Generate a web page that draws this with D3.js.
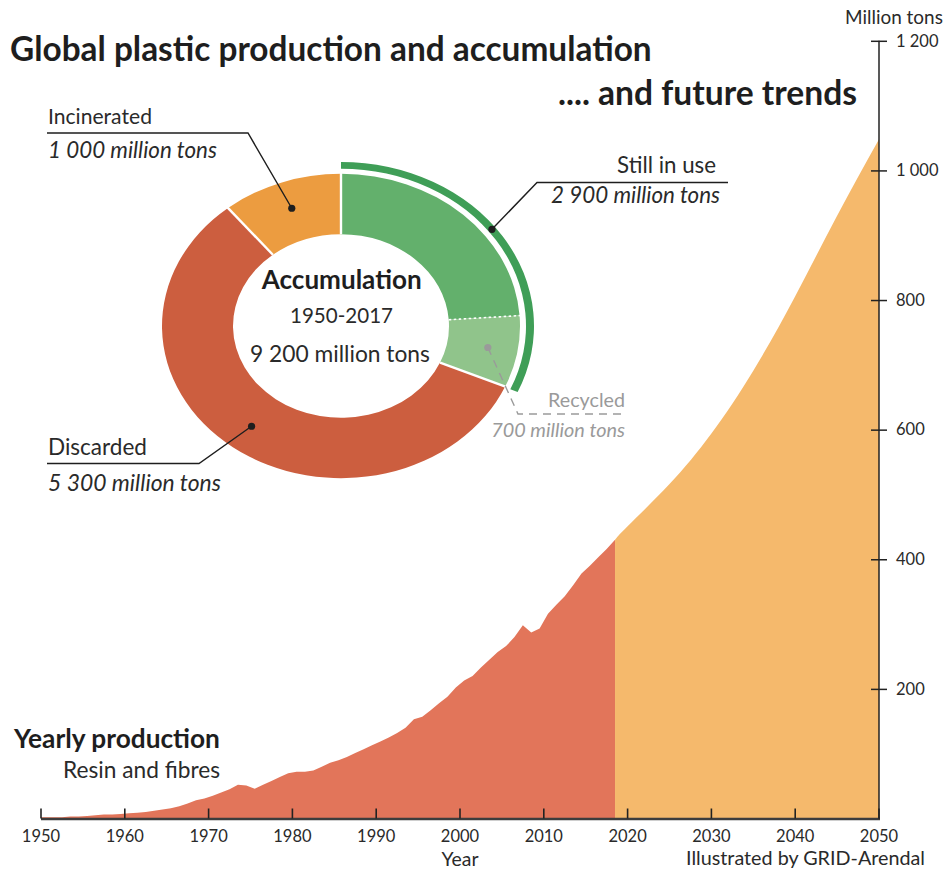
<!DOCTYPE html>
<html><head><meta charset="utf-8">
<script src="https://cdn.jsdelivr.net/npm/d3@7"></script>
<style>
html,body{margin:0;padding:0;background:#fff;}
svg{display:block;font-family:Lato,"Noto Sans",sans-serif;}
</style></head><body>
<svg id="c" width="949" height="870"></svg>
<script>
// ---------------- DATA ----------------
const histYears = d3.range(1950, 2019);
const histValues = [2,2,2,3,3,4,5,6,6,7,
  8,9,10,12,14,16,19,23,28,31,
  35,40,45,52,51,46,52,58,64,70,
  72,72,74,80,86,90,95,101,107,113,
  119,125,132,140,153,157,167,178,188,202,
  213,220,233,245,257,266,280,298,287,293,
  316,330,343,360,378,390,403,416,430];
const futureYears = [2020, 2025, 2030, 2035, 2040, 2045, 2050];
const futureValues = [451, 516, 594, 691, 806, 930, 1048];
const xTickYears = [1950,1960,1970,1980,1990,2000,2010,2020,2030,2040,2050];
const yTickValues = [200,400,600,800,1000,1200];

const donutCategories = ["Still in use","Recycled","Discarded","Incinerated"];
const donutValues = [2200, 700, 5300, 1000];   // dark green = 2 900 still in use minus 700 recycled
const donutLabels = ["2 900 million tons","700 million tons","5 300  million tons","1 000 million tons"];
const donutColors = ["#63b06c","#90c48b","#cc5e3f","#ec9c40"];

// ---------------- SETUP ----------------
const svg = d3.select("#c");
const x = d3.scaleLinear().domain([1950, 2050]).range([41, 879]);
const y = d3.scaleLinear().domain([0, 1200]).range([818.5, 40.8]);
const HALF = 0.5; // yearly values drawn at mid-year

function fit(sel, w){
  const n = sel.node();
  const cur = n.getComputedTextLength();
  const fs = parseFloat(sel.attr("font-size"));
  if (cur > 0) sel.attr("font-size", (fs * w / cur).toFixed(2));
  return sel;
}
function txt(t, px, py, fs, opts={}){
  const s = svg.append("text").attr("x", px).attr("y", py).attr("font-size", fs)
    .attr("fill", opts.fill || "#2a2a2a").text(t);
  if (opts.weight) s.attr("font-weight", opts.weight);
  if (opts.italic) s.attr("font-style", "italic");
  if (opts.anchor) s.attr("text-anchor", opts.anchor);
  if (opts.width) fit(s, opts.width);
  return s;
}

// ---------------- AREAS ----------------
const hist = histYears.map((yr, i) => ({yr: yr + HALF, v: histValues[i]}));
const last = hist[hist.length - 1];
const fut = [last].concat(futureYears.map((yr, i) => ({yr, v: futureValues[i]})));

svg.append("path").datum([{yr:1950, v:histValues[0]}].concat(hist))
  .attr("d", d3.area().x(d => x(d.yr)).y0(y(0)).y1(d => y(d.v)).curve(d3.curveLinear))
  .attr("fill", "#e2755a");
svg.append("path").datum(fut)
  .attr("d", d3.area().x(d => x(d.yr)).y0(y(0)).y1(d => y(d.v)).curve(d3.curveNatural))
  .attr("fill", "#f5b96c");

// ---------------- AXES ----------------
svg.append("line").attr("x1", x(1950)).attr("x2", x(2050) + 1).attr("y1", y(0) + 0.5).attr("y2", y(0) + 0.5)
  .attr("stroke", "#3d3d3d").attr("stroke-width", 2.6);
const xt = svg.append("g").selectAll("g").data(xTickYears).join("g")
  .attr("transform", d => `translate(${x(d)},0)`);
xt.append("line").attr("y1", y(0) - 10).attr("y2", y(0)).attr("stroke", "#222").attr("stroke-width", 1.6);
xt.append("text").attr("y", 842).attr("text-anchor", "middle").attr("font-size", 16.5)
  .attr("fill", "#2a2a2a").text(d => d);
txt("Year", 460, 866, 17, {anchor: "middle", width: 37});

const yAxis = d3.axisRight(y).tickValues(yTickValues).tickSize(8)
  .tickFormat(d => d3.format(",")(d).replace(/,/g, " "));
const yg = svg.append("g").attr("transform", `translate(${x(2050)},0)`).call(yAxis);
yg.select(".domain").remove();
yg.append("line").attr("y1", y(0)).attr("y2", y(1200)).attr("stroke", "#222").attr("stroke-width", 1.5);
yg.selectAll(".tick line").attr("x1", -8).attr("x2", 8).attr("stroke", "#222").attr("stroke-width", 1.5);
yg.selectAll(".tick text").attr("x", 17).attr("font-size", 16.5).attr("fill", "#2a2a2a")
  .attr("font-family", "Lato, 'Noto Sans', sans-serif");
txt("Million tons", 845, 24, 16, {width: 98});

// ---------------- TITLES ----------------
txt("Global plastic production and accumulation", 10, 61, 28, {weight: 700, width: 642, fill: "#1e1e1e"});
txt(".... and future trends", 857, 105, 28, {weight: 700, anchor: "end", width: 299, fill: "#1e1e1e"});
txt("Yearly production", 14, 748, 22, {weight: 700, width: 206, fill: "#1e1e1e"});
txt("Resin and fibres", 220, 778, 19, {anchor: "end", width: 157});
txt("Illustrated by GRID-Arendal", 686, 865, 16, {width: 239});

// ---------------- DONUT ----------------
const cx = 341, cy = 326, sy = 0.85, rIn = 108, rOut = 179;
const pie = d3.pie().sort(null).value(d => d)(donutValues);
const dg = svg.append("g").attr("transform", `translate(${cx},${cy}) scale(1,${sy})`);
const arc = d3.arc().innerRadius(rIn).outerRadius(rOut);
dg.selectAll("path.slice").data(pie).join("path").attr("class", "slice")
  .attr("d", arc).attr("fill", (d, i) => donutColors[i]);
pie.forEach((p, i) => {
  const a = p.startAngle;
  const ln = dg.append("line")
    .attr("x1", rIn * Math.sin(a) ).attr("y1", -rIn * Math.cos(a))
    .attr("x2", (rOut + 1) * Math.sin(a)).attr("y2", -(rOut + 1) * Math.cos(a))
    .attr("stroke", "#fff").attr("stroke-width", i === 1 ? 1.6 : 2.4)
    .attr("vector-effect", "non-scaling-stroke");
  if (i === 1) ln.attr("stroke-dasharray", "2.5,2.5");
});
const outerArc = d3.arc().innerRadius(185).outerRadius(193);
dg.append("path").attr("d", outerArc({startAngle: 0, endAngle: pie[1].endAngle + 0.005}))
  .attr("fill", "#3f9e57");

function toScreen(angle, r){
  return [cx + r * Math.sin(angle), cy - r * Math.cos(angle) * sy];
}
const mid = p => (p.startAngle + p.endAngle) / 2;

txt("Accumulation", 341.7, 289, 23, {weight: 700, anchor: "middle", width: 160, fill: "#1e1e1e"});
txt("1950-2017", 341.5, 323, 20, {anchor: "middle", width: 103});
txt("9 200 million tons", 340, 362, 20, {anchor: "middle", width: 180});

const lg = svg.append("g");
function leader(pts, dot, color, dash){
  const l = lg.append("path").attr("d", d3.line()(pts)).attr("fill", "none")
    .attr("stroke", color).attr("stroke-width", 1.4);
  if (dash) l.attr("stroke-dasharray", dash);
  lg.append("circle").attr("cx", dot[0]).attr("cy", dot[1]).attr("r", 3.6).attr("fill", color);
}
const dInc = toScreen(mid(pie[3]), 147);
leader([dInc, [248, 133], [47, 133]], dInc, "#1e1e1e");
txt(donutCategories[3], 48, 124, 19, {width: 104});
txt(donutLabels[3], 48, 158, 19, {italic: true, width: 169});

const dUse = toScreen(53 * Math.PI / 180, 189);
leader([dUse, [537, 182.5], [728, 182.5]], dUse, "#1e1e1e");
txt(donutCategories[0], 716, 173, 19, {anchor: "end", width: 99});
txt(donutLabels[0], 720, 203, 19, {italic: true, anchor: "end", width: 169});

const dDis = toScreen(mid(pie[2]), 148);
leader([dDis, [199, 463.5], [47, 463.5]], dDis, "#1e1e1e");
txt(donutCategories[2], 48, 455, 19, {width: 99});
txt(donutLabels[2], 48, 491, 19, {italic: true, width: 173});

const dRec = toScreen(mid(pie[1]), 149);
leader([dRec, [518, 414], [627, 414]], dRec, "#9a9a9a", "8,6");
txt(donutCategories[1], 625, 407, 18, {anchor: "end", width: 77, fill: "#9a9a9a"});
txt(donutLabels[1], 625, 437, 18, {italic: true, anchor: "end", width: 134, fill: "#9a9a9a"});
</script>
</body></html>
